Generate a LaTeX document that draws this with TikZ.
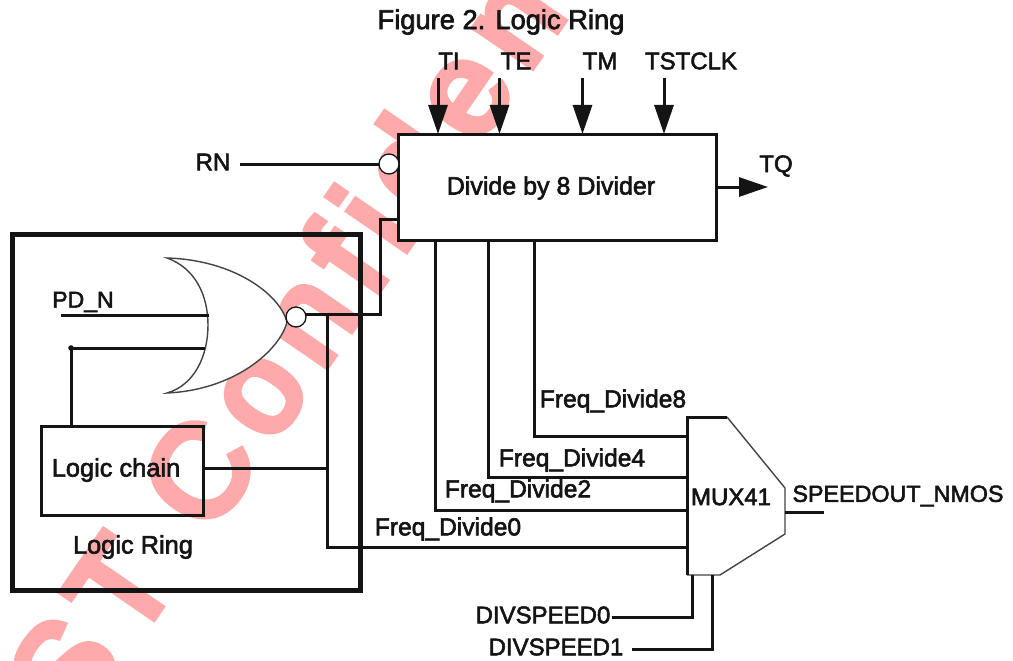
\documentclass[tikz,border=0pt]{standalone}
\usepackage{fontspec}
\setmainfont{Liberation Sans}[RawFeature={embolden=2.4}]
\newfontfamily\wmfont{Liberation Sans}[LetterSpace=12.5,RawFeature={embolden=6}]
\usetikzlibrary{arrows.meta}
\definecolor{ink}{HTML}{141414}
\definecolor{wm}{HTML}{FFAAAA}
\tikzset{
  lbl/.style={inner sep=0pt,outer sep=0pt,text=ink,font=\fontsize{24}{24}\selectfont},
  lblbig/.style={inner sep=0pt,outer sep=0pt,text=ink,font=\fontsize{25.4}{26}\selectfont},
  wire/.style={draw=ink,line width=3pt},
  thin wire/.style={draw=ink!80,line width=1.4pt},
  arrowin/.style={draw=ink,line width=3pt,-{Triangle[length=29pt,width=19pt]}},
  boxnode/.style={draw=ink,rectangle,inner sep=0pt,outer sep=0pt},
  bubble/.style={draw=ink,circle,fill=white,line width=1.3pt,minimum size=20pt,inner sep=0pt,outer sep=0pt},
  pin/.style={inner sep=0pt}
}
\begin{document}
\begin{tikzpicture}[x=1pt,y=-1pt]
\useasboundingbox (0,0) rectangle (1013,661);
% watermark
\begin{scope}
\clip (0,0) rectangle (1013,661);
\node[anchor=base west,inner sep=0pt,rotate=55.5,text=wm,font=\wmfont\fontsize{130}{130}\selectfont] (wmark) at (76,730) {ST Confidential};
\end{scope}
% outer ring box
\node[boxnode,line width=5pt,minimum width=348pt,minimum height=356pt] (ring) at (186,412) {};
% NOR gate
\path[fill=white,thin wire] (167,258) .. controls (235,260) and (280,295) .. (287,322)
  .. controls (280,350) and (235,390) .. (167,393)
  .. controls (195,385) and (208,355) .. (208,325)
  .. controls (208,295) and (195,268) .. (167,258) -- cycle;
\node[bubble] (norbub) at (296,317) {};
% divider
\node[boxnode,fill=white,line width=3pt,minimum width=318pt,minimum height=106pt] (div) at (557,187) {};
\node[bubble] (rnbub) at (389,164) {};
% logic chain
\node[boxnode,line width=3pt,minimum width=162pt,minimum height=89pt] (chain) at (122,470.5) {};
% mux
\coordinate (m1) at (687,417);
\coordinate (m2) at (727,417);
\coordinate (m3) at (785,488);
\coordinate (m4) at (785,534);
\coordinate (m5) at (720,575);
\coordinate (m6) at (687,575);
\draw[thin wire] (m2) -- (m3) -- (m4) -- (m5) -- (m6);
\draw[wire] (m6) -- (m1) -- (m2);
% pins and free ends
\coordinate (rnend) at (240,164);
\coordinate (j1) at (380,314);
\coordinate (divin) at (398,219);
\coordinate (tapA) at (327,314);
\coordinate (tapB) at (327,468);
\coordinate (i0) at (687,547);
\coordinate (i1) at (687,510);
\coordinate (i2) at (687,477);
\coordinate (i3) at (687,436);
\coordinate (pd0) at (61,315);
\coordinate (pd1) at (209,315);
\coordinate (fb0) at (71,348);
\coordinate (fb1) at (205,348);
\coordinate (fb2) at (71,426);
\coordinate (o1) at (785,512);
\coordinate (o2) at (824,512);
\coordinate (s0a) at (692,575);
\coordinate (s0b) at (692,617);
\coordinate (s0c) at (612,617);
\coordinate (s1a) at (712,575);
\coordinate (s1b) at (712,649);
\coordinate (s1c) at (632,649);
% wires
\draw[wire] (rnend) -- (rnbub.west);
\draw[wire] (norbub.east |- j1) -- (j1) -- (j1 |- divin) -- (divin);
\draw[wire] (tapA) -- (tapA |- i0) -- (i0);
\draw[wire] (chain.east |- tapB) -- (tapB);
\draw[wire] (pd0) -- (pd1);
\draw[wire] (fb1) -- (fb0) -- (fb2);
\fill[ink] (fb0) circle (2.8pt);
\draw[wire] (435,240) -- (435,510) -- (i1);
\draw[wire] (488,240) -- (488,477) -- (i2);
\draw[wire] (534.5,240) -- (534.5,436) -- (i3);
\draw[wire] (o1) -- (o2);
\draw[wire] (s0a) -- (s0b) -- (s0c);
\draw[wire] (s1a) -- (s1b) -- (s1c);
% arrows
\coordinate (a1) at (438,78);
\coordinate (a2) at (499.5,78);
\coordinate (a3) at (582.5,78);
\coordinate (a4) at (664,78);
\draw[arrowin] (a1) -- (a1 |- div.north);
\draw[arrowin] (a2) -- (a2 |- div.north);
\draw[arrowin] (a3) -- (a3 |- div.north);
\draw[arrowin] (a4) -- (a4 |- div.north);
\coordinate (tq) at (768,187);
\draw[arrowin] (div.east) -- (tq);
% labels
\node[lblbig,font=\fontsize{27.3}{28}\selectfont] (title) at (501,22) {Figure 2. Logic Ring};
\node[lbl] (tTI) at (449,61) {TI};
\node[lbl] (tTE) at (516,61) {TE};
\node[lbl] (tTM) at (600,61) {TM};
\node[lbl] (tCK) at (691,61) {TSTCLK};
\node[lbl] (tTQ) at (776,166) {TQ};
\node[lbl] (tRN) at (213,162) {RN};
\node[lblbig,font=\fontsize{25}{26}\selectfont] (tDiv) at (551,188) {Divide by 8 Divider};
\node[lbl,font=\fontsize{23}{24}\selectfont] (tPD) at (83,302) {PD\_N};
\node[lblbig] (tChain) at (116,470) {Logic chain};
\node[lblbig] (tRing) at (133,547) {Logic Ring};
\node[lbl,font=\fontsize{24.6}{25}\selectfont] (f8) at (613,401) {Freq\_Divide8};
\node[lbl,font=\fontsize{24.6}{25}\selectfont] (f4) at (572,460) {Freq\_Divide4};
\node[lbl,font=\fontsize{24.6}{25}\selectfont] (f2) at (518,491) {Freq\_Divide2};
\node[lbl,font=\fontsize{24.6}{25}\selectfont] (f0) at (448,529) {Freq\_Divide0};
\node[lbl] (tMux) at (731,497) {MUX41};
\node[lbl,font=\fontsize{23.3}{24}\selectfont] (tOut) at (898,496) {SPEEDOUT\_NMOS};
\node[lbl] (tS0) at (543,615) {DIVSPEED0};
\node[lbl] (tS1) at (556,647) {DIVSPEED1};
\end{tikzpicture}
\end{document}
